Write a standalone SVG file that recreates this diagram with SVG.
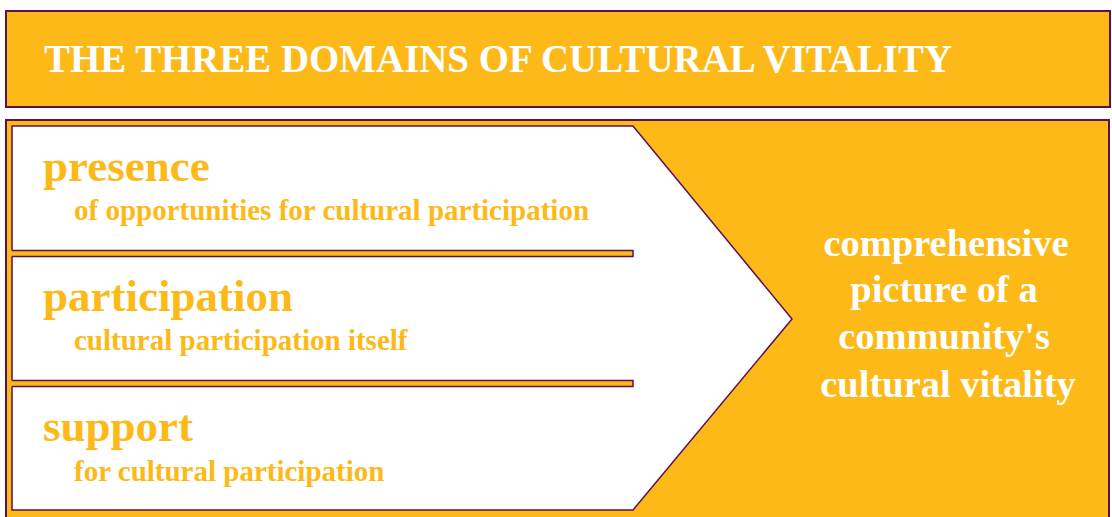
<svg xmlns="http://www.w3.org/2000/svg" width="1112" height="517" viewBox="0 0 1112 517">
<style>
.frame{fill:#FCB918;stroke:#5E0F52;stroke-width:2}
.edge{fill:none;stroke:#5E0F52;stroke-width:1.5}
.bar{fill:#FCB918;stroke:none}
.t{font-family:"Liberation Serif","Times New Roman",serif;font-weight:bold}
.title{fill:#ffffff;font-size:41px}
.head{fill:#FCB918;font-size:45px}
.sub{fill:#FCB918;font-size:29px}
.res{fill:#ffffff;font-size:38.5px;text-anchor:middle}
</style>
<rect width="1112" height="517" fill="#ffffff"/>
<g id="title">
<rect class="frame" x="6" y="11" width="1104" height="96"/>
<text class="t title" x="44" y="72" textLength="908" lengthAdjust="spacingAndGlyphs">THE THREE DOMAINS OF CULTURAL VITALITY</text>
</g>
<g id="main">
<rect class="frame" x="6" y="120" width="1103" height="420"/>
<polygon points="12,126 633,126 792,319 633,510 12,510" fill="#ffffff" stroke="#5E0F52" stroke-width="1.5"/>
</g>
<g id="separators">
<rect class="bar" x="7" y="250.5" width="626" height="6"/>
<path class="edge" d="M12,250.5 H633 V256.5 H12"/>
<rect class="bar" x="7" y="380.5" width="626" height="6"/>
<path class="edge" d="M12,380.5 H633 V386.5 H12"/>
</g>
<g id="presence">
<text class="t head" x="43" y="181">presence</text>
<text class="t sub" x="74" y="220">of opportunities for cultural participation</text>
</g>
<g id="participation">
<text class="t head" x="43" y="311">participation</text>
<text class="t sub" x="74" y="350">cultural participation itself</text>
</g>
<g id="support">
<text class="t head" x="43" y="441">support</text>
<text class="t sub" x="74" y="481">for cultural participation</text>
</g>
<g id="result">
<text class="t res" x="946" y="256">comprehensive</text>
<text class="t res" x="944" y="302">picture of a</text>
<text class="t res" x="944" y="349">community's</text>
<text class="t res" x="948" y="397">cultural vitality</text>
</g>
</svg>
